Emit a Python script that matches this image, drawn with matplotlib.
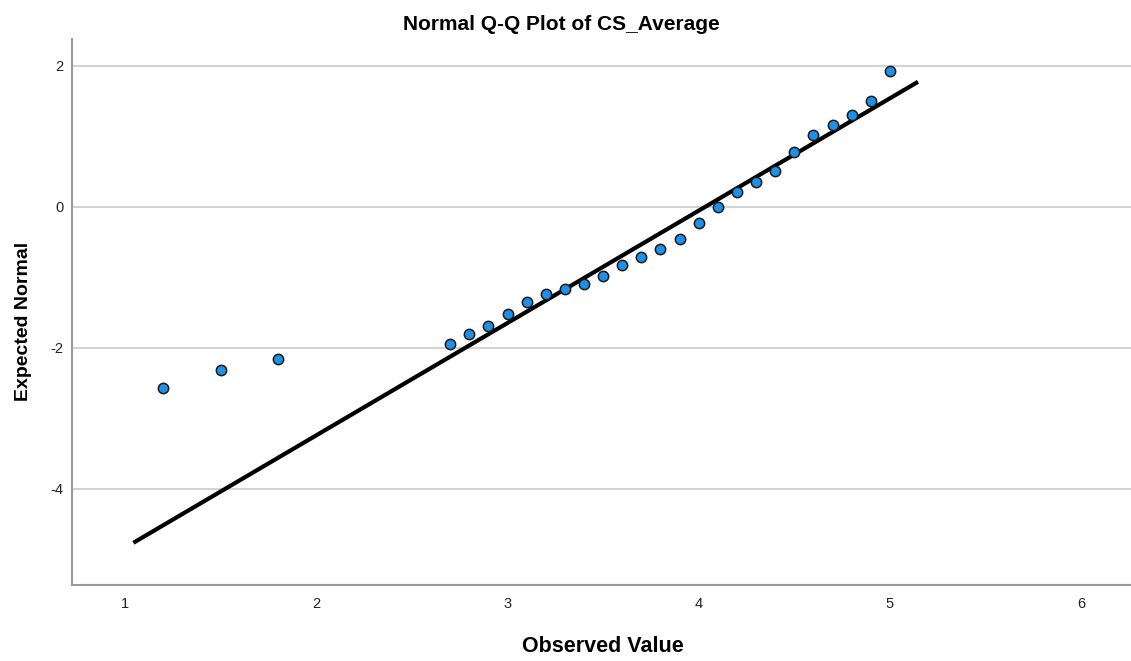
import matplotlib.pyplot as plt

# Observed values and expected normal quantiles
observed = [1.2, 1.5, 1.8, 2.7, 2.8, 2.9, 3.0, 3.1, 3.2, 3.3, 3.4, 3.5, 3.6,
            3.7, 3.8, 3.9, 4.0, 4.1, 4.2, 4.3, 4.4, 4.5, 4.6, 4.7, 4.8, 4.9, 5.0]
expected = [-2.567, -2.321, -2.165, -1.952, -1.806, -1.688, -1.526, -1.356,
            -1.238, -1.172, -1.092, -0.979, -0.831, -0.709, -0.604, -0.458,
            -0.235, 0.0, 0.204, 0.350, 0.511, 0.772, 1.017, 1.163, 1.305,
            1.499, 1.921]

# Reference line: y = (x - mean) / sd
line_mean = 4.035
line_sd = 0.6276
line_x = [1.043, 5.147]

x_ticks = [1, 2, 3, 4, 5, 6]
y_ticks = [-4, -2, 0, 2]

plt.rcParams['font.family'] = ['Liberation Sans', 'DejaVu Sans']
plt.rcParams['axes.unicode_minus'] = False

fig = plt.figure(figsize=(11.31, 6.61), dpi=100)
ax = fig.add_axes([72 / 1131, 76 / 661, 1 - 72 / 1131, (585 - 39) / 661])

for y in y_ticks:
    ax.axhline(y, color='#d3d3d3', lw=1.5, zorder=0)

line_y = [(x - line_mean) / line_sd for x in line_x]
ax.plot(line_x, line_y, color='black', lw=3, solid_capstyle='butt', zorder=2)

ax.scatter(observed, expected, s=55, c='#1e90e8', edgecolors='#1a1a1a',
           linewidths=1.1, zorder=3)

ax.set_xlim(0.722, 6.261)
ax.set_ylim(-5.366, 2.379)
ax.set_xticks(x_ticks)
ax.set_yticks(y_ticks)
ax.tick_params(length=0, labelsize=10.5, colors='#222222')
ax.tick_params(axis='x', pad=9)
ax.tick_params(axis='y', pad=6)

for side in ['top', 'right']:
    ax.spines[side].set_visible(False)
for side in ['left', 'bottom']:
    ax.spines[side].set_color('#9a9a9a')
    ax.spines[side].set_linewidth(1.5)

fig.text(561.5 / 1131, 1 - 30 / 661, "Normal Q-Q Plot of CS_Average",
         ha='center', va='baseline', fontsize=15, fontweight='bold')
fig.text(603 / 1131, 1 - 652 / 661, "Observed Value", ha='center',
         va='baseline', fontsize=15.5, fontweight='bold')
fig.text(24 / 1131, 1 - 321 / 661, "Expected Normal", ha='center',
         va='center', fontsize=14, fontweight='bold', rotation=90)

fig.savefig('out.png', dpi=100)
